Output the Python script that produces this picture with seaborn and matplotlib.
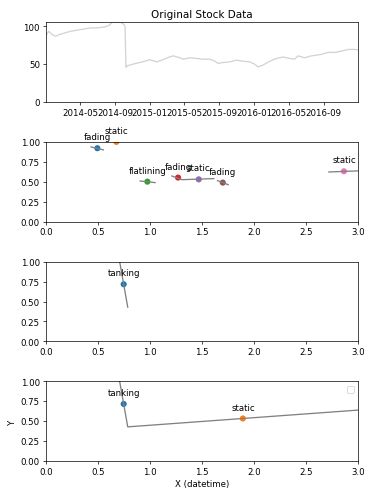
import pandas as pd
import numpy as np
import matplotlib
matplotlib.use('Agg')
import matplotlib.pyplot as plt
import matplotlib.dates as mdates
import seaborn as sns

# stock prices
stock_dates = ['2014-01-02', '2014-01-09', '2014-01-12', '2014-01-24', '2014-02-05',
               '2014-02-16', '2014-03-06', '2014-03-29', '2014-04-21', '2014-05-15',
               '2014-06-07', '2014-06-30', '2014-07-24', '2014-08-10', '2014-08-22',
               '2014-09-20', '2014-10-02', '2014-10-06', '2014-10-09', '2014-10-13',
               '2014-11-06', '2014-12-11', '2014-12-29', '2015-01-15', '2015-01-25',
               '2015-02-17', '2015-03-12', '2015-03-24', '2015-04-16', '2015-04-28',
               '2015-05-21', '2015-06-14', '2015-07-07', '2015-07-30', '2015-08-17',
               '2015-08-28', '2015-09-14', '2015-10-08', '2015-10-31', '2015-11-23',
               '2015-12-17', '2016-01-03', '2016-01-14', '2016-01-28', '2016-02-18',
               '2016-03-14', '2016-04-11', '2016-05-05', '2016-05-22', '2016-06-03',
               '2016-06-26', '2016-07-20', '2016-08-24', '2016-09-16', '2016-10-09',
               '2016-11-02', '2016-11-25', '2016-12-18', '2016-12-30']
stock_values = [88, 92, 93.5, 89, 87,
                89, 91, 93.5, 95, 96.5,
                98, 98, 99, 101, 105.5,
                105.5, 102.5, 100, 46, 47.8,
                50.4, 53.5, 55.8, 54.5, 53,
                56.2, 59.8, 61, 58.5, 56.6,
                58.5, 57.6, 56.6, 56.6, 54,
                51, 52.2, 53.1, 55.3, 54,
                53, 50, 46.5, 48, 52.5,
                57, 59.5, 57.6, 56.6, 61,
                58.5, 61, 63, 65.6, 65.6,
                67.3, 69.5, 69.5, 69]

# panel 2: detected trend points
pts_x = [0.494, 0.677, 0.975, 1.270, 1.469, 1.700, 2.865]
pts_y = [0.921, 1.0, 0.502, 0.553, 0.531, 0.490, 0.632]
pts_label = ['fading', 'static', 'flatlining', 'fading', 'static', 'fading', 'static']
seg_x0 = [0.433, None, 0.905, 1.210, 1.315, 1.649, 2.720]
seg_x1 = [0.552, None, 1.049, 1.306, 1.614, 1.752, 3.100]
seg_y0 = [0.937, None, 0.510, 0.573, 0.527, 0.515, 0.623]
seg_y1 = [0.900, None, 0.490, 0.527, 0.540, 0.464, 0.642]

# panel 3/4: tanking + static
tank_x = [0.747]
tank_y = [0.716]
tank_label = ['tanking']
line3_x = [0.70, 0.786]
line3_y = [1.06, 0.429]
pts4_x = [0.747, 1.893]
pts4_y = [0.716, 0.534]
pts4_label = ['tanking', 'static']
line4_x = [0.70, 0.786, 3.0]
line4_y = [1.06, 0.429, 0.639]

stock = pd.DataFrame({'date': pd.to_datetime(stock_dates), 'price': stock_values})

fig, axes = plt.subplots(4, 1, figsize=(6, 8))
fig.subplots_adjust(left=0.123, right=0.957, top=0.954, bottom=0.074, hspace=0.5)

# original stock data
ax = axes[0]
sns.lineplot(data=stock, x='date', y='price', color='lightgray', ax=ax)
ax.set_xlim(stock['date'].min(), stock['date'].max())
ax.set_ylim(0, stock['price'].max())
ax.xaxis.set_major_locator(mdates.MonthLocator(bymonth=(1, 5, 9)))
ax.xaxis.set_major_formatter(mdates.DateFormatter('%Y-%m'))
ax.set_title('Original Stock Data')
ax.set_xlabel('')
ax.set_ylabel('')

palette = sns.color_palette('tab10')
msize = 50

def annotate(ax, xs, ys, labels):
    for x, y, t in zip(xs, ys, labels):
        ax.annotate(t, (x, y), xytext=(0, 10), textcoords='offset points', ha='center')

# trend points
ax = axes[1]
for a, b, c, d in zip(seg_x0, seg_x1, seg_y0, seg_y1):
    if a is not None:
        ax.plot([a, b], [c, d], color='gray')
pts = pd.DataFrame({'x': pts_x, 'y': pts_y, 'k': range(len(pts_x))})
sns.scatterplot(data=pts, x='x', y='y', hue='k', palette=palette[:len(pts_x)], legend=False,
                edgecolor='none', s=msize, ax=ax)
annotate(ax, pts_x, pts_y, pts_label)

ax = axes[2]
ax.plot(line3_x, line3_y, color='gray')
sns.scatterplot(x=tank_x, y=tank_y, color=palette[0], edgecolor='none', s=msize, ax=ax)
annotate(ax, tank_x, tank_y, tank_label)

ax = axes[3]
ax.plot(line4_x, line4_y, color='gray')
sns.scatterplot(x=pts4_x, y=pts4_y, hue=[0, 1], palette=palette[:2], legend=False,
                edgecolor='none', s=msize, ax=ax)
annotate(ax, pts4_x, pts4_y, pts4_label)
ax.legend(handles=[], loc='upper right')
ax.set_xlabel('X (datetime)')
ax.set_ylabel('Y')

for ax in axes[1:]:
    ax.set_xlim(0, 3)
    ax.set_ylim(0, 1)
    if ax is not axes[3]:
        ax.set_xlabel('')
        ax.set_ylabel('')

fig.savefig('out.png', dpi=62.34)
